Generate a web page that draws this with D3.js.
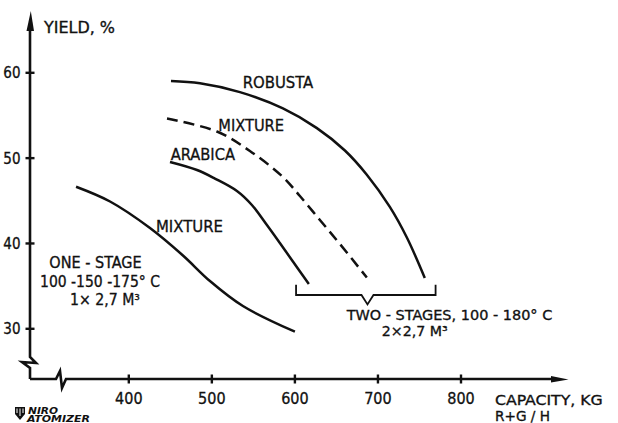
<!DOCTYPE html>
<html>
<head>
<meta charset="utf-8">
<script src="https://cdn.jsdelivr.net/npm/d3@7"></script>
<style>
  html, body { margin: 0; padding: 0; background: #fff; }
  svg { display: block; }
  text { font-family: "DejaVu Sans Condensed", "DejaVu Sans", sans-serif; fill: #111; }
</style>
</head>
<body>
<svg id="chart" width="618" height="423"></svg>
<script>
// ---- data (capacity kg R+G/h, yield %) ----
const xTicks = [400, 500, 600, 700, 800];
const yTicks = [30, 40, 50, 60];
const robusta = [[451.4,58.98],[486.3,58.71],[534.4,57.68],[586.2,55.77],[627.1,53.46],[660.8,50.84],[687.2,48.0],[714.9,44.23],[735.4,40.64],[757.0,35.9]];
const mixtureTwoStage = [[446.6,54.59],[506.7,53.06],[546.4,50.78],[586.2,47.73],[606.6,45.5],[630.7,42.69],[654.8,39.88],[687.2,35.95]];
const arabica = [[450.2,49.49],[482.7,48.55],[504.3,47.55],[530.8,46.09],[548.8,44.45],[566.9,42.1],[582.5,39.99],[598.2,37.83],[617.4,35.19]];
const mixtureOneStage = [[337.1,46.59],[378.0,44.86],[426.1,41.75],[465.8,38.53],[498.3,35.54],[538.0,32.61],[600.6,29.6]];
const twoStageRange = [602, 770];   // bracket span on capacity axis
const twoStageNotch = 688;

const svg = d3.select("#chart");
const x = d3.scaleLinear().domain([400, 800]).range([128.3, 460.5]);
const y = d3.scaleLinear().domain([30, 60]).range([328.3, 72.3]);

const ink = "#111";
const axisX0 = 30, axisY0 = 379;

// ---- axes lines with breaks ----
const g = svg.append("g");
g.append("path")
  .attr("d", `M${axisX0},30 L${axisX0},357 L36,363 L22,362 L${axisX0},368 L${axisX0},${axisY0}`)
  .attr("fill", "none").attr("stroke", ink).attr("stroke-width", 2.6).attr("stroke-linejoin", "miter");
g.append("path").attr("d", `M${axisX0-3.5},31 L${axisX0+0.8},11 L${axisX0+4},31 Z`).attr("fill", ink);
g.append("path")
  .attr("d", `M${axisX0},${axisY0} L56,${axisY0} L60,371 L62,388 L66,${axisY0} L553,${axisY0}`)
  .attr("fill", "none").attr("stroke", ink).attr("stroke-width", 2.6).attr("stroke-linejoin", "miter");
g.append("path").attr("d", `M551,${axisY0-3} L568.5,${axisY0+0.5} L551,${axisY0+3.5} Z`).attr("fill", ink);

// x ticks via d3 axis
const xAxis = svg.append("g").attr("transform", `translate(0,${axisY0})`)
  .call(d3.axisBottom(x).tickValues(xTicks).tickSize(4.5).tickPadding(0));
xAxis.select(".domain").remove();
xAxis.selectAll(".tick line").attr("y1", -4.5).attr("y2", 4.5).attr("stroke", ink).attr("stroke-width", 2.4);
xAxis.selectAll(".tick text").attr("y", 25).attr("dy", null)
  .style("font-family", "'DejaVu Sans Condensed', 'DejaVu Sans', sans-serif")
  .style("font-size", "16px").attr("fill", ink).attr("stroke", ink).attr("stroke-width", 0.3);

// y ticks via d3 axis
const yAxis = svg.append("g").attr("transform", `translate(${axisX0},0)`)
  .call(d3.axisLeft(y).tickValues(yTicks).tickSize(4.5).tickPadding(0));
yAxis.select(".domain").remove();
yAxis.selectAll(".tick line").attr("x1", -4.5).attr("x2", 4.5).attr("stroke", ink).attr("stroke-width", 2.4);
yAxis.selectAll(".tick text").attr("x", -9.5).attr("dy", "0.36em")
  .style("font-family", "'DejaVu Sans Condensed', 'DejaVu Sans', sans-serif")
  .style("font-size", "15px").attr("fill", ink).attr("stroke", ink).attr("stroke-width", 0.3);

// ---- curves ----
const line = d3.line().x(d => x(d[0])).y(d => y(d[1])).curve(d3.curveCatmullRom.alpha(0.5));
const curves = [
  { data: robusta, dash: null },
  { data: mixtureTwoStage, dash: "11,6" },
  { data: arabica, dash: null },
  { data: mixtureOneStage, dash: null }
];
svg.append("g").selectAll("path").data(curves).join("path")
  .attr("d", d => line(d.data))
  .attr("fill", "none").attr("stroke", ink).attr("stroke-width", 2.5)
  .attr("stroke-dasharray", d => d.dash);

// ---- bracket ----
const bTop = y(35.1), bLine = y(33.9), bNotch = y(32.8);
svg.append("path")
  .attr("d", `M${x(twoStageRange[0])},${bTop} L${x(twoStageRange[0])},${bLine} L${x(twoStageNotch)-6},${bLine} L${x(twoStageNotch)},${bNotch} L${x(twoStageNotch)+6},${bLine} L${x(twoStageRange[1])},${bLine} L${x(twoStageRange[1])},${bTop}`)
  .attr("fill", "none").attr("stroke", ink).attr("stroke-width", 1.8);

// ---- labels ----
function label(txt, px, py, w, size) {
  const t = svg.append("text").attr("x", px).attr("y", py)
    .style("font-size", size + "px").attr("stroke", ink).attr("stroke-width", 0.3)
    .text(txt);
  if (w) t.attr("textLength", w).attr("lengthAdjust", "spacingAndGlyphs");
  return t;
}
label("YIELD, %", 44, 32.7, 71, 15);
label("CAPACITY, KG", 495, 404.5, 107.7, 14);
label("R+G / H", 495, 420.8, 55, 14);
label("ROBUSTA", 242.7, 88.3, 70.6, 16);
label("MIXTURE", 218.3, 131, 65.7, 16);
label("ARABICA", 170.7, 160, 64.3, 16);
label("MIXTURE", 156, 231.7, 67, 16);
label("ONE - STAGE", 49.3, 267.7, 92.4, 15);
label("100 -150 -175° C", 40, 286.7, 120, 15);
label("1× 2,7 M³", 70, 305, 70, 15);
label("TWO - STAGES, 100 - 180° C", 346.7, 319.5, 205.6, 14);
label("2×2,7 M³", 381.7, 336, 66, 14);

// ---- logo ----
const logo = svg.append("g");
logo.append("path").attr("d", "M15,407 L25,407 L25,414 L20,420 L15,414 Z").attr("fill", ink);
logo.append("path").attr("d", "M17,408.5 L17,413 M20,408.5 L20,416 M23,408.5 L23,413").attr("stroke", "#fff").attr("stroke-width", 1);
logo.append("text").attr("x", 28).attr("y", 413.5).text("NIRO")
  .style("font-size", "8px").style("font-weight", "bold").style("font-style", "italic")
  .attr("textLength", 30).attr("lengthAdjust", "spacingAndGlyphs");
logo.append("text").attr("x", 27).attr("y", 421.5).text("ATOMIZER")
  .style("font-size", "8px").style("font-weight", "bold").style("font-style", "italic")
  .attr("textLength", 63).attr("lengthAdjust", "spacingAndGlyphs");
</script>
</body>
</html>
